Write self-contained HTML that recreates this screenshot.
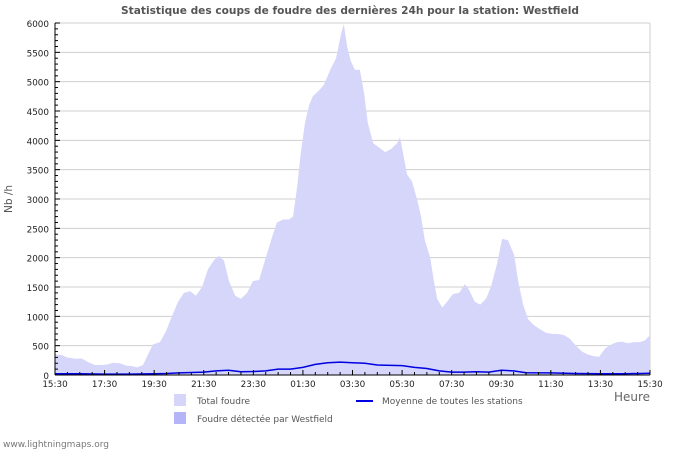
<!DOCTYPE html>
<html><head><meta charset="utf-8"><style>
body{margin:0;background:#fff;width:700px;height:450px;overflow:hidden;font-family:"DejaVu Sans","Liberation Sans",sans-serif}
svg{display:block}
</style></head><body>
<svg id="chart" width="700" height="450">
<text x="350" y="14" text-anchor="middle" font-size="10.6" font-weight="bold" fill="#555">Statistique des coups de foudre des dernières 24h pour la station: Westfield</text>
<g id="grid"></g><g id="series"></g><g id="axes"></g>
<text transform="translate(12,199) rotate(-90)" text-anchor="middle" font-size="10.5" fill="#555">Nb /h</text>
<text x="632" y="401" text-anchor="middle" font-size="12" fill="#666">Heure</text>
<g>
<rect x="174" y="394" width="12" height="12" fill="#d6d6fb"/>
<text x="197" y="404" font-size="9" fill="#555">Total foudre</text>
<rect x="174" y="412" width="12" height="12" fill="#b4b4f8"/>
<text x="197" y="422" font-size="9" fill="#555">Foudre détectée par Westfield</text>
<line x1="356" y1="401" x2="373" y2="401" stroke="#0000e0" stroke-width="2"/>
<text x="382" y="404" font-size="9" fill="#555">Moyenne de toutes les stations</text>
</g>
<text x="3" y="447" font-size="9" fill="#777">www.lightningmaps.org</text>
</svg>
<script>
const totalMinutes=[0,17,29,48,65,80,97,114,128,140,157,172,189,198,213,225,237,254,269,283,298,312,327,341,356,370,385,397,409,421,436,450,465,479,494,508,523,537,552,566,576,586,595,605,615,624,639,651,666,680,692,699,707,716,726,738,748,757,770,784,799,813,828,835,842,852,864,876,886,895,908,917,925,937,949,963,978,992,1002,1016,1029,1043,1055,1070,1082,1096,1111,1121,1133,1145,1159,1174,1188,1203,1217,1232,1246,1261,1275,1290,1304,1317,1331,1346,1360,1372,1387,1401,1416,1428,1440];
const totalValues=[350,340,300,280,280,220,170,170,180,210,200,160,150,130,170,350,520,560,750,1000,1250,1400,1430,1350,1500,1800,1960,2030,1950,1600,1350,1300,1400,1600,1620,1950,2300,2600,2650,2650,2700,3200,3800,4300,4600,4750,4850,4950,5200,5400,5800,5980,5600,5350,5200,5200,4800,4300,3950,3880,3800,3850,3950,4050,3800,3420,3300,3000,2700,2300,2000,1600,1300,1150,1250,1380,1400,1550,1450,1250,1200,1300,1500,1900,2320,2300,2050,1600,1200,950,850,780,720,700,700,680,620,500,400,350,320,310,450,520,560,570,540,560,560,590,680];
const avgMinutes=[0,60,120,180,240,270,300,360,390,420,450,480,510,540,570,600,630,660,690,720,750,780,840,870,900,930,960,990,1020,1050,1080,1110,1140,1200,1260,1320,1380,1440];
const avgValues=[20,20,15,15,20,25,35,50,70,80,55,60,70,100,100,130,180,210,220,210,200,170,160,130,110,70,50,50,55,50,80,70,40,35,25,20,20,30];
const yTicks=[0,500,1000,1500,2000,2500,3000,3500,4000,4500,5000,5500,6000];
const xTickLabels=["15:30","17:30","19:30","21:30","23:30","01:30","03:30","05:30","07:30","09:30","11:30","13:30","15:30"];
const X0=55,X1=650,Y0=375,Y1=23,NS="http://www.w3.org/2000/svg";
const xs=m=>X0+m/1440*(X1-X0), ys=v=>Y0-v/6000*(Y0-Y1);
function mk(p,t,a){const e=document.createElementNS(NS,t);for(const k in a)e.setAttribute(k,a[k]);p.appendChild(e);return e;}
const grid=document.getElementById('grid'),ser=document.getElementById('series'),ax=document.getElementById('axes');
yTicks.forEach(v=>{if(v>0){const l=mk(grid,'line',{x1:X0,x2:X1,y1:ys(v),y2:ys(v),stroke:'#cfcfcf'});

}
const t=mk(ax,'text',{x:X0-6,y:ys(v)+4,'text-anchor':'end','font-size':'8.8',fill:'#222'});t.textContent=v;

});
for(let v=0;v<=6000;v+=100){mk(ax,'line',{x1:X0,x2:X0+(v%500?3:5),y1:ys(v),y2:ys(v),stroke:'#000'});}
mk(grid,'line',{x1:X1,x2:X1,y1:Y1,y2:Y0,stroke:'#cfcfcf'});
let d='M'+xs(totalMinutes[0])+','+Y0;
totalMinutes.forEach((m,i)=>{d+='L'+xs(m).toFixed(1)+','+ys(totalValues[i]).toFixed(1);});
d+='L'+xs(totalMinutes[totalMinutes.length-1])+','+Y0+'Z';
const area=mk(ser,'path',{d:d,fill:'#d6d6fb'});


const pl=mk(ser,'polyline',{points:avgMinutes.map((m,i)=>xs(m).toFixed(1)+','+ys(avgValues[i]).toFixed(1)).join(' '),fill:'none',stroke:'#0000e0','stroke-width':1.5});


mk(ax,'line',{x1:X0,x2:X0,y1:Y1,y2:Y0,stroke:'#000'});
mk(ax,'line',{x1:X0,x2:X1,y1:Y0,y2:Y0,stroke:'#000'});
for(let m=0;m<=1440;m+=30){mk(ax,'line',{x1:xs(m),x2:xs(m),y1:Y0-(m%120?3:5),y2:Y0,stroke:'#000'});}
xTickLabels.forEach((s,i)=>{const t=mk(ax,'text',{x:xs(i*120),y:Y0+12,'text-anchor':'middle','font-size':'8.8',fill:'#222'});t.textContent=s;

});
</script>
</body></html>
